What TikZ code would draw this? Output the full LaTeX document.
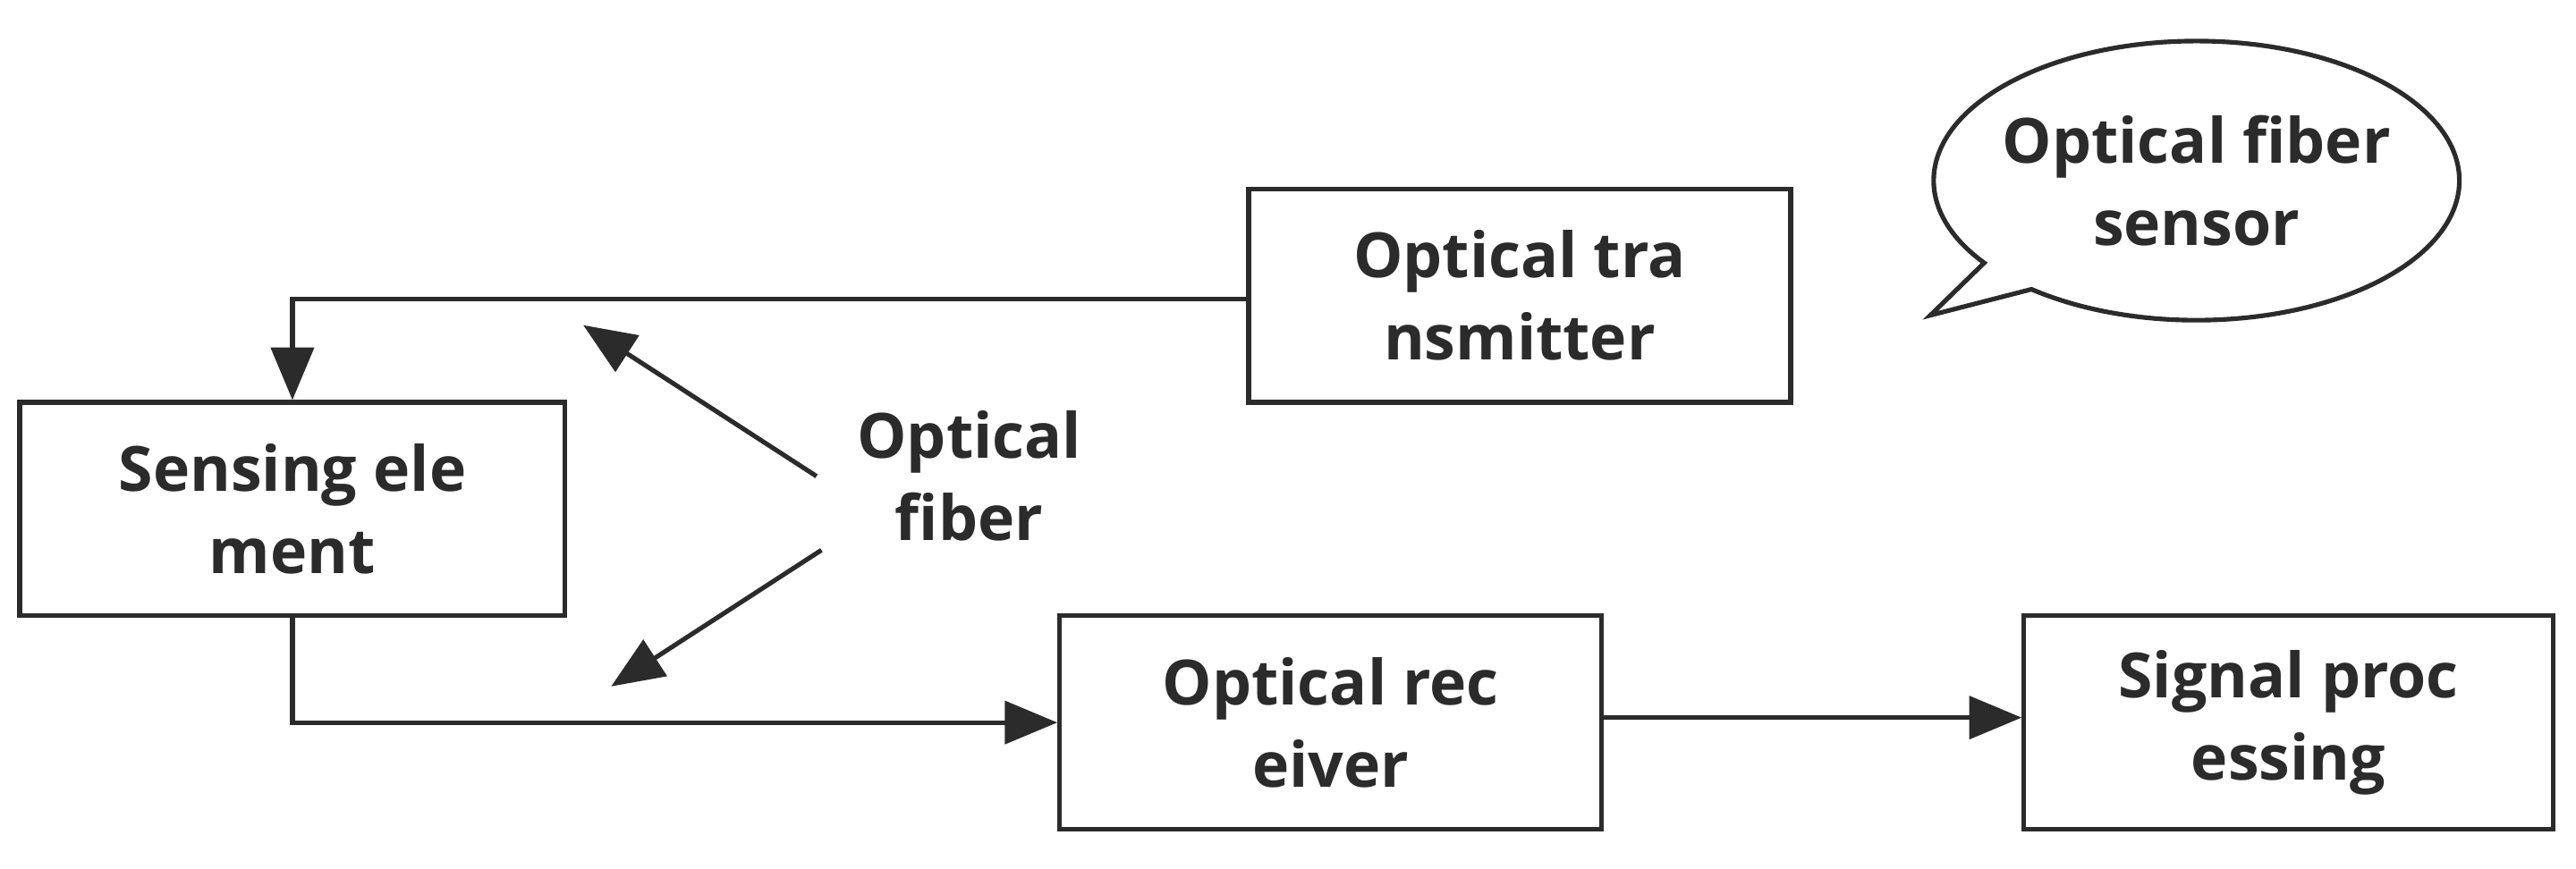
\documentclass[tikz,border=0pt]{standalone}
\usepackage{fontspec}
\setmainfont{Open Sans}
\usetikzlibrary{arrows.meta,shapes.callouts}
\definecolor{ink}{HTML}{2B2B2B}
\begin{document}
\begin{tikzpicture}[x=0.5pt,y=-0.5pt,color=ink,
  box/.style={draw,line width=1.4pt,minimum width=165pt,minimum height=65pt,align=center,font=\fontsize{19}{25}\selectfont\bfseries,inner sep=0pt},
  arr/.style={line width=1.4pt,-{Triangle[length=16pt,width=13pt]}},
  lab/.style={font=\fontsize{19}{25}\selectfont\bfseries,align=center}]
\useasboundingbox (0,0) rectangle (1568,529);
\node[box,minimum width=165pt] (tx) at (925,180) {Optical tra\\nsmitter};
\node[box,minimum width=166pt] (se) at (178,310) {Sensing ele\\ment};
\node[box] (rx) at (810,440) {Optical rec\\eiver};
\node[box,minimum width=161pt] (sp) at (1393,440) {Signal proc\\essing};
\node[ellipse callout,draw,line width=1.4pt,minimum width=160pt,minimum height=85pt,inner sep=-4pt,
  callout absolute pointer={(1175,192)},lab] (bub) at (1337,110) {Optical fiber\\sensor};
\node[lab] (of) at (590,290) {Optical\\fiber};
\coordinate (c1) at (178,182);
\coordinate (c2) at (178,440);
\draw[arr] (tx.west|-0,182) -- (c1) -- (se.north);
\draw[arr] (se.south) -- (c2) -- (rx.west|-0,440);
\draw[arr] (rx.east|-0,437) -- (sp.west|-0,437);
\coordinate (a1) at (355,198);
\coordinate (a2) at (372,418);
\draw[arr] (497,290) -- (a1);
\draw[arr] (500,335) -- (a2);
\end{tikzpicture}
\end{document}
